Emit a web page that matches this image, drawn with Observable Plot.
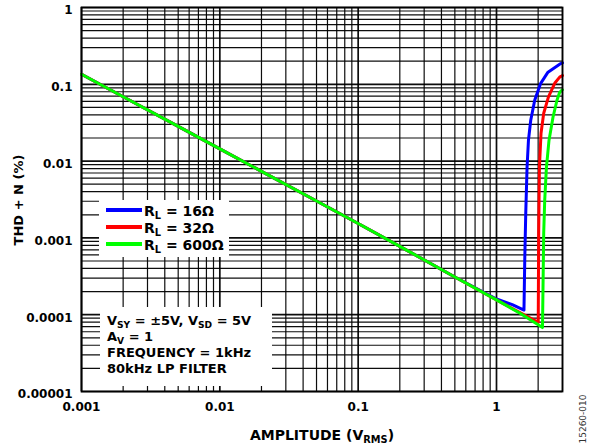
<!DOCTYPE html>
<html>
<head>
<meta charset="utf-8">
<script src="https://cdn.jsdelivr.net/npm/d3@7"></script>
<script src="https://cdn.jsdelivr.net/npm/@observablehq/plot@0.6"></script>
<style>
  html, body { margin: 0; padding: 0; background: #fff; }
  svg { display: block; }
</style>
</head>
<body>
<div id="chart"></div>
<script>
// ---- Data ----
const amp16 = [0.001, 0.002, 0.005, 0.01, 0.02, 0.05, 0.1, 0.2, 0.5, 1, 1.3, 1.58, 1.60, 1.627, 1.663, 1.702, 1.768, 1.889, 2.087, 2.356, 2.862, 3.0];
const thd16 = [0.135, 0.0689, 0.0283, 0.0144, 0.00736, 0.00302, 0.00154, 0.000776, 0.00031, 0.00016, 0.000135, 0.000115, 0.0005, 0.00207, 0.00828, 0.0186, 0.034, 0.062, 0.103, 0.144, 0.183, 0.19];

const amp32 = [0.001, 0.002, 0.005, 0.01, 0.02, 0.05, 0.1, 0.2, 0.5, 1, 1.5, 2.003, 2.018, 2.043, 2.098, 2.194, 2.372, 2.634, 2.862, 3.0];
const thd32 = [0.135, 0.0689, 0.0283, 0.0144, 0.00736, 0.00302, 0.00154, 0.000776, 0.00031, 0.000156, 0.000105, 0.0000794, 0.00114, 0.00828, 0.023, 0.042, 0.068, 0.103, 0.124, 0.13];

const amp600 = [0.001, 0.002, 0.005, 0.01, 0.02, 0.05, 0.1, 0.2, 0.5, 1, 1.5, 2.15, 2.194, 2.231, 2.296, 2.396, 2.561, 2.736, 2.862, 3.0];
const thd600 = [0.135, 0.0689, 0.0283, 0.0144, 0.00736, 0.00302, 0.00154, 0.000776, 0.00031, 0.000156, 0.000103, 0.000068, 0.00114, 0.00307, 0.00828, 0.0186, 0.0372, 0.062, 0.0788, 0.085];

const seriesNames = ["16Ω", "32Ω", "600Ω"];
const seriesColors = ["#0000ff", "#ff0000", "#00ff00"];

const xTickValues = [0.001, 0.01, 0.1, 1];
const xTickLabels = ["0.001", "0.01", "0.1", "1"];
const yTickValues = [0.00001, 0.0001, 0.001, 0.01, 0.1, 1];
const yTickLabels = ["0.00001", "0.0001", "0.001", "0.01", "0.1", "1"];
const gridMultipliers = [1, 2, 3, 4, 5, 6, 7, 8, 9];

const xTitle = ["AMPLITUDE (V", "RMS", ")"];
const yTitle = "THD + N (%)";
const notes = [
  [["V", ""], ["SY", "sub"], [" = ±5V, V", ""], ["SD", "sub"], [" = 5V", ""]],
  [["A", ""], ["V", "sub"], [" = 1", ""]],
  [["FREQUENCY = 1kHz", ""]],
  [["80kHz LP FILTER", ""]]
];
const figureId = "15260-010";

// ---- Build tables ----
const rows = [];
[[amp16, thd16], [amp32, thd32], [amp600, thd600]].forEach(([xs, ys], k) => {
  xs.forEach((x, i) => rows.push({series: seriesNames[k], amp: x, thd: ys[i]}));
});
const xGrid = [];
xTickValues.forEach(d => gridMultipliers.forEach(m => { const v = +(d * m).toPrecision(6); if (v <= 3) xGrid.push(v); }));
const yGrid = [];
yTickValues.slice(0, -1).forEach(d => gridMultipliers.forEach(m => yGrid.push(+(d * m).toPrecision(6))));
yGrid.push(1);
const xLabelMap = new Map(xTickValues.map((v, i) => [v, xTickLabels[i]]));
const yLabelMap = new Map(yTickValues.map((v, i) => [v, yTickLabels[i]]));

const FONT = "DejaVu Sans";

const chart = Plot.plot({
  width: 590,
  height: 448,
  marginLeft: 81,
  marginRight: 28,
  marginTop: 7,
  marginBottom: 57,
  style: {fontFamily: FONT, background: "#fff"},
  x: {type: "log", domain: [0.001, 3]},
  y: {type: "log", domain: [0.00001, 1]},
  color: {domain: seriesNames, range: seriesColors},
  marks: [
    Plot.ruleX(xGrid, {stroke: "#000", strokeWidth: d => xTickValues.includes(d) ? 1.7 : 1.2, strokeOpacity: 0.95}),
    Plot.ruleY(yGrid, {stroke: "#000", strokeWidth: d => yTickValues.includes(d) ? 1.7 : 1.2, strokeOpacity: 0.95}),
    Plot.line(rows, {x: "amp", y: "thd", z: "series", stroke: "series", strokeWidth: 3, strokeLinejoin: "round"}),
    Plot.frame({stroke: "#000", strokeWidth: 1.8}),
    Plot.axisX(xTickValues, {tickSize: 0, tickPadding: 11, tickFormat: d => xLabelMap.get(d), fontSize: 12, fontWeight: "bold", fill: "#000", label: null}),
    Plot.axisY(yTickValues, {tickSize: 0, tickPadding: 9, tickFormat: d => yLabelMap.get(d), fontSize: 12, fontWeight: "bold", fill: "#000", dy: 3, label: null})
  ]
});

document.getElementById("chart").appendChild(chart);

const svg = d3.select(chart);
const ov = svg.append("g").attr("font-family", FONT).attr("font-weight", "bold")
  .attr("fill", "#000").attr("text-anchor", "start");

function addRich(g, x, y, parts, size) {
  const t = g.append("text").attr("x", x).attr("y", y).attr("font-size", size).attr("text-anchor", "start");
  let shifted = false;
  const sh = size * 0.24;
  parts.forEach(([s, kind]) => {
    const ts = t.append("tspan").text(s);
    if (kind === "sub" && !shifted) { ts.attr("dy", sh).attr("font-size", size * 0.7); shifted = true; }
    else if (kind === "sub") { ts.attr("font-size", size * 0.7); }
    else if (shifted) { ts.attr("dy", -sh); shifted = false; }
  });
  return t;
}

// Legend box
ov.append("rect").attr("x", 99).attr("y", 200).attr("width", 130).attr("height", 57).attr("fill", "#fff");
seriesNames.forEach((name, i) => {
  const yy = 210 + i * 17;
  ov.append("line").attr("x1", 106).attr("x2", 142).attr("y1", yy).attr("y2", yy)
    .attr("stroke", seriesColors[i]).attr("stroke-width", 4);
  addRich(ov, 144, yy + 6, [["R", ""], ["L", "sub"], [" = " + name, ""]], 14);
});

// Conditions box
ov.append("rect").attr("x", 100).attr("y", 307).attr("width", 172).attr("height", 79).attr("fill", "#fff");
notes.forEach((parts, i) => addRich(ov, 107, 325 + i * 16, parts, 13));

// Axis titles
const xt = addRich(ov, 322, 440, [[xTitle[0], ""], [xTitle[1], "sub"], [xTitle[2], ""]], 14);
xt.attr("text-anchor", "middle");
ov.append("text").attr("transform", "translate(23,200) rotate(-90)").attr("text-anchor", "middle")
  .attr("font-size", 13).text(yTitle);

// Figure id
svg.append("text").attr("transform", "translate(586,419) rotate(-90)").attr("text-anchor", "middle")
  .attr("font-family", FONT).attr("font-size", 9).attr("fill", "#333").text(figureId);
</script>
</body>
</html>
